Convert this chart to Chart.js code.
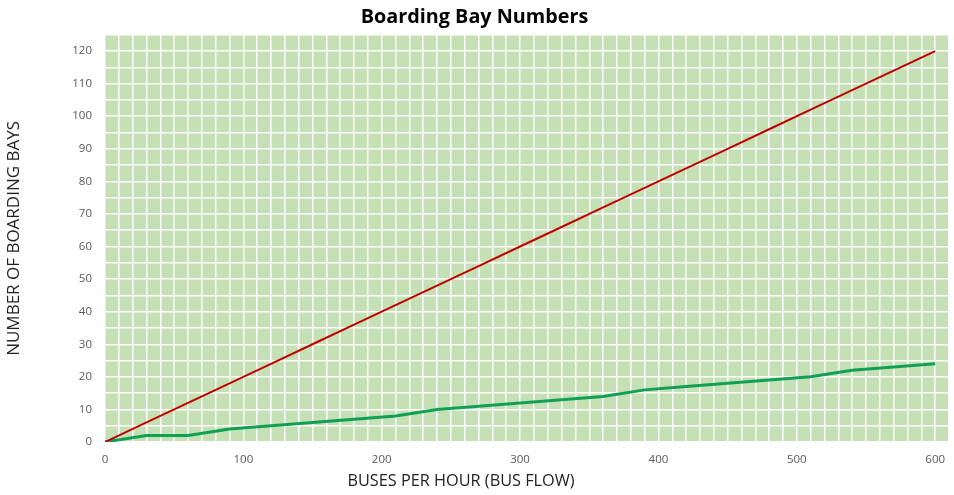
<!DOCTYPE html>
<html>
<head>
<meta charset="utf-8">
<script src="https://cdn.jsdelivr.net/npm/chart.js@4/dist/chart.umd.min.js"></script>
<style>
  html, body { margin: 0; padding: 0; background: #fff; }
  #wrap { width: 954px; height: 495px; }
</style>
</head>
<body>
<div id="wrap"><canvas id="myChart" width="954" height="495"></canvas></div>
<script>
// buses per hour (x) and boarding bays needed (y)
var busFlow   = [0, 30, 60, 90, 120, 150, 180, 210, 240, 270, 300, 330, 360, 390, 420, 450, 480, 510, 540, 570, 600];
var baysRed   = [0, 6, 12, 18, 24, 30, 36, 42, 48, 54, 60, 66, 72, 78, 84, 90, 96, 102, 108, 114, 120];
var baysGreen = [0, 2, 2, 4, 5, 6, 7, 8, 10, 11, 12, 13, 14, 16, 17, 18, 19, 20, 22, 23, 24];
var xLabelEvery = 100;
var yLabelEvery = 10;

function puntos(xs, ys){
    var out = [];
    for(var i = 0; i < xs.length; i++){
        out.push({x: xs[i], y: ys[i]});
    }
    return out;
}

// green fill behind the plot area
const fondo = {
    id: 'fondo',
    beforeDraw(chart){
        const a = chart.chartArea;
        const c = chart.ctx;
        c.save();
        c.fillStyle = '#C5E0B4';
        c.fillRect(a.left, a.top, a.right - a.left, a.bottom - a.top);
        c.restore();
    }
};

// x axis title, sits a bit left of the plot centre
const tituloX = {
    id: 'tituloX',
    afterDraw(chart){
        const c = chart.ctx;
        c.save();
        c.font = '16.3px "Open Sans"';
        c.fillStyle = '#222';
        c.textAlign = 'center';
        c.textBaseline = 'middle';
        c.fillText('BUSES PER HOUR (BUS FLOW)', 461, 481);
        c.restore();
    }
};

const ctx = document.getElementById('myChart').getContext('2d');
const chart = new Chart(ctx, {
    type: 'line',
    data: {
        datasets: [{
            label: 'Max',
            data: puntos(busFlow, baysRed),
            borderColor: '#C00000',
            borderWidth: 2,
            pointRadius: 0,
            tension: 0
        }, {
            label: 'Actual',
            data: puntos(busFlow, baysGreen),
            borderColor: '#0FA055',
            borderWidth: 3,
            pointRadius: 0,
            tension: 0
        }]
    },
    options: {
        responsive: false,
        animation: false,
        layout: { padding: { top: 0, right: 5, bottom: 0, left: 0 } },
        plugins: {
            legend: { display: false },
            tooltip: { enabled: false },
            title: {
                display: true,
                text: 'Boarding Bay Numbers',
                color: '#000',
                font: { family: '"Open Sans"', size: 19.8, weight: 'bold', lineHeight: 1.2 },
                padding: { top: 5, bottom: 6 }
            }
        },
        scales: {
            x: {
                type: 'linear',
                min: 0,
                max: 610,
                afterFit: function(s){ s.height = 53; s.paddingLeft = 0; s.paddingRight = 0; },
                border: { display: false },
                grid: { color: '#FFFFFF', lineWidth: 1.5, drawTicks: false },
                ticks: {
                    stepSize: 10,
                    autoSkip: false,
                    maxRotation: 0,
                    padding: 11,
                    color: '#595959',
                    font: { family: '"Open Sans"', size: 11.5 },
                    callback: function(v){ return v % xLabelEvery === 0 ? v : ''; }
                }
            },
            y: {
                min: 0,
                max: 125,
                afterFit: function(s){ s.width = 105; },
                border: { display: false },
                grid: { color: '#FFFFFF', lineWidth: 1.5, drawTicks: false },
                ticks: {
                    stepSize: 5,
                    autoSkip: false,
                    padding: 13,
                    color: '#595959',
                    font: { family: '"Open Sans"', size: 11.5 },
                    callback: function(v){ return v % yLabelEvery === 0 ? v : ''; }
                },
                title: {
                    display: true,
                    text: 'NUMBER OF BOARDING BAYS',
                    color: '#222',
                    font: { family: '"Open Sans"', size: 17, lineHeight: 1.2 },
                    padding: { top: 4, bottom: 0 }
                }
            }
        }
    },
    plugins: [fondo, tituloX]
});
</script>
</body>
</html>
